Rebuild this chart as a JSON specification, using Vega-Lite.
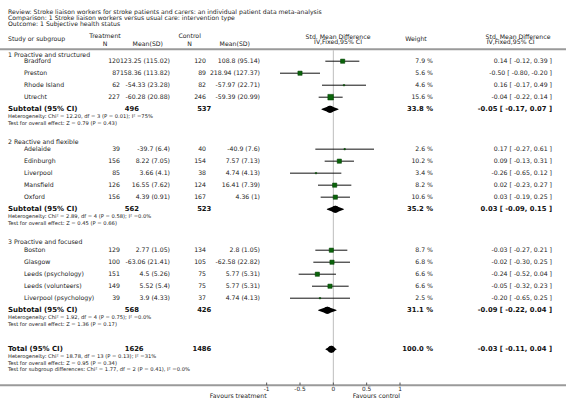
{
  "$schema": "https://vega.github.io/schema/vega-lite/v6.json",
  "width": 566,
  "height": 408,
  "padding": 0,
  "autosize": {"type": "none"},
  "background": "white",
  "config": {
    "view": {"stroke": null},
    "axis": {"disable": true},
    "legend": {"disable": true},
    "text": {"font": "DejaVu Sans", "fontSize": 6.2, "color": "#222", "baseline": "middle"}
  },
  "datasets": {
    "titles": [
      {"row": 0.94, "text": "Review:  Stroke liaison workers for stroke patients and carers: an individual patient data meta-analysis"},
      {"row": 1.44, "text": "Comparison:  1 Stroke liaison workers versus usual care: intervention type"},
      {"row": 1.9, "text": "Outcome:  1 Subjective health status"}
    ],
    "headers": [
      {"col": "label", "row": 3.15, "text": "Study or subgroup"},
      {"col": "treat", "row": 2.9, "text": "Treatment"},
      {"col": "tN", "row": 3.57, "text": "N"},
      {"col": "tMean", "row": 3.57, "text": "Mean(SD)"},
      {"col": "ctrl", "row": 2.9, "text": "Control"},
      {"col": "cN", "row": 3.57, "text": "N"},
      {"col": "cMean", "row": 3.57, "text": "Mean(SD)"},
      {"col": "plot", "row": 2.98, "text": "Std. Mean Difference"},
      {"col": "plot", "row": 3.44, "text": "IV,Fixed,95% CI"},
      {"col": "weight", "row": 3.11, "text": "Weight"},
      {"col": "ci", "row": 2.98, "text": "Std. Mean Difference"},
      {"col": "ci2", "row": 3.44, "text": "IV,Fixed,95% CI"}
    ],
    "groups": [
      {"row": 4.48, "label": "1 Proactive and structured"},
      {"row": 11.75, "label": "2 Reactive and flexible"},
      {"row": 20.08, "label": "3 Proactive and focused"}
    ],
    "studies": [
      {"study": "Bradford", "row": 5, "tN": "120", "tMean": "123.25 (115.02)", "cN": "120", "cMean": "108.8 (95.14)", "weight": 7.9, "wtext": "7.9 %", "est": 0.14, "lo": -0.12, "hi": 0.39, "ci": "0.14 [ -0.12, 0.39 ]"},
      {"study": "Preston", "row": 6, "tN": "87", "tMean": "158.36 (113.82)", "cN": "89", "cMean": "218.94 (127.37)", "weight": 5.6, "wtext": "5.6 %", "est": -0.5, "lo": -0.8, "hi": -0.2, "ci": "-0.50 [ -0.80, -0.20 ]"},
      {"study": "Rhode Island", "row": 7, "tN": "62", "tMean": "-54.33 (23.28)", "cN": "82", "cMean": "-57.97 (22.71)", "weight": 4.6, "wtext": "4.6 %", "est": 0.16, "lo": -0.17, "hi": 0.49, "ci": "0.16 [ -0.17, 0.49 ]"},
      {"study": "Utrecht", "row": 8, "tN": "227", "tMean": "-60.28 (20.88)", "cN": "246", "cMean": "-59.39 (20.99)", "weight": 15.6, "wtext": "15.6 %", "est": -0.04, "lo": -0.22, "hi": 0.14, "ci": "-0.04 [ -0.22, 0.14 ]"},
      {"study": "Adelaide", "row": 12.33, "tN": "39", "tMean": "-39.7 (6.4)", "cN": "40", "cMean": "-40.9 (7.6)", "weight": 2.6, "wtext": "2.6 %", "est": 0.17, "lo": -0.27, "hi": 0.61, "ci": "0.17 [ -0.27, 0.61 ]"},
      {"study": "Edinburgh", "row": 13.33, "tN": "156", "tMean": "8.22 (7.05)", "cN": "154", "cMean": "7.57 (7.13)", "weight": 10.2, "wtext": "10.2 %", "est": 0.09, "lo": -0.13, "hi": 0.31, "ci": "0.09 [ -0.13, 0.31 ]"},
      {"study": "Liverpool", "row": 14.33, "tN": "85", "tMean": "3.66 (4.1)", "cN": "38", "cMean": "4.74 (4.13)", "weight": 3.4, "wtext": "3.4 %", "est": -0.26, "lo": -0.65, "hi": 0.12, "ci": "-0.26 [ -0.65, 0.12 ]"},
      {"study": "Mansfield", "row": 15.33, "tN": "126", "tMean": "16.55 (7.62)", "cN": "124", "cMean": "16.41 (7.39)", "weight": 8.2, "wtext": "8.2 %", "est": 0.02, "lo": -0.23, "hi": 0.27, "ci": "0.02 [ -0.23, 0.27 ]"},
      {"study": "Oxford", "row": 16.33, "tN": "156", "tMean": "4.39 (0.91)", "cN": "167", "cMean": "4.36 (1)", "weight": 10.6, "wtext": "10.6 %", "est": 0.03, "lo": -0.19, "hi": 0.25, "ci": "0.03 [ -0.19, 0.25 ]"},
      {"study": "Boston", "row": 20.75, "tN": "129", "tMean": "2.77 (1.05)", "cN": "134", "cMean": "2.8 (1.05)", "weight": 8.7, "wtext": "8.7 %", "est": -0.03, "lo": -0.27, "hi": 0.21, "ci": "-0.03 [ -0.27, 0.21 ]"},
      {"study": "Glasgow", "row": 21.75, "tN": "100", "tMean": "-63.06 (21.41)", "cN": "105", "cMean": "-62.58 (22.82)", "weight": 6.8, "wtext": "6.8 %", "est": -0.02, "lo": -0.3, "hi": 0.25, "ci": "-0.02 [ -0.30, 0.25 ]"},
      {"study": "Leeds (psychology)", "row": 22.75, "tN": "151", "tMean": "4.5 (5.26)", "cN": "75", "cMean": "5.77 (5.31)", "weight": 6.6, "wtext": "6.6 %", "est": -0.24, "lo": -0.52, "hi": 0.04, "ci": "-0.24 [ -0.52, 0.04 ]"},
      {"study": "Leeds (volunteers)", "row": 23.75, "tN": "149", "tMean": "5.52 (5.4)", "cN": "75", "cMean": "5.77 (5.31)", "weight": 6.6, "wtext": "6.6 %", "est": -0.05, "lo": -0.32, "hi": 0.23, "ci": "-0.05 [ -0.32, 0.23 ]"},
      {"study": "Liverpool (psychology)", "row": 24.75, "tN": "39", "tMean": "3.9 (4.33)", "cN": "37", "cMean": "4.74 (4.13)", "weight": 2.5, "wtext": "2.5 %", "est": -0.2, "lo": -0.65, "hi": 0.25, "ci": "-0.20 [ -0.65, 0.25 ]"}
    ],
    "subs": [
      {"label": "Subtotal (95% CI)", "row": 9, "tN": "496", "cN": "537", "wtext": "33.8 %", "est": -0.05, "lo": -0.17, "hi": 0.07, "ci": "-0.05 [ -0.17, 0.07 ]", "het": "Heterogeneity: Chi² = 12.20, df = 3 (P = 0.01); I² =75%", "test": "Test for overall effect: Z = 0.79 (P = 0.43)", "sub": ""},
      {"label": "Subtotal (95% CI)", "row": 17.33, "tN": "562", "cN": "523", "wtext": "35.2 %", "est": 0.03, "lo": -0.09, "hi": 0.15, "ci": "0.03 [ -0.09, 0.15 ]", "het": "Heterogeneity: Chi² = 2.89, df = 4 (P = 0.58); I² =0.0%", "test": "Test for overall effect: Z = 0.45 (P = 0.66)", "sub": ""},
      {"label": "Subtotal (95% CI)", "row": 25.75, "tN": "568", "cN": "426", "wtext": "31.1 %", "est": -0.09, "lo": -0.22, "hi": 0.04, "ci": "-0.09 [ -0.22, 0.04 ]", "het": "Heterogeneity: Chi² = 1.92, df = 4 (P = 0.75); I² =0.0%", "test": "Test for overall effect: Z = 1.36 (P = 0.17)", "sub": ""},
      {"label": "Total (95% CI)", "row": 29, "tN": "1626", "cN": "1486", "wtext": "100.0 %", "est": -0.03, "lo": -0.11, "hi": 0.04, "ci": "-0.03 [ -0.11, 0.04 ]", "het": "Heterogeneity: Chi² = 18.78, df = 13 (P = 0.13); I² =31%", "test": "Test for overall effect: Z = 0.95 (P = 0.34)", "sub": "Test for subgroup differences: Chi² = 1.77, df = 2 (P = 0.41), I² =0.0%"}
    ],
    "rules": [
      {"what": "header", "row": 4.0},
      {"what": "axis", "row": 32}
    ],
    "ticks": [
      {"v": -1, "lab": "-1"},
      {"v": -0.5, "lab": "-0.5"},
      {"v": 0, "lab": "0"},
      {"v": 0.5, "lab": "0.5"},
      {"v": 1, "lab": "1"}
    ],
    "favours": [
      {"side": "treatment", "text": "Favours treatment"},
      {"side": "control", "text": "Favours control"}
    ]
  },
  "resolve": {"scale": {"size": "independent"}},
  "layer": [
    {
      "data": {"name": "rules"},
      "mark": {"type": "rule", "color": "#9a9a9a", "strokeWidth": 2},
      "encoding": {
        "x": {"datum": -5, "type": "quantitative", "scale": {"domain": [-5, 3.49], "nice": false, "zero": false}},
        "x2": {"datum": 3.49},
        "y": {"field": "row", "type": "quantitative", "scale": {"domain": [-0.1, 33.9], "nice": false, "zero": false, "reverse": true}}
      }
    },
    {
      "data": {"values": [{"line": "no effect"}]},
      "mark": {"type": "rule", "color": "#bdbdbd", "strokeWidth": 1},
      "encoding": {"x": {"datum": 0}, "y": {"datum": 4.08}, "y2": {"datum": 32}}
    },
    {
      "data": {"name": "ticks"},
      "mark": {"type": "rule", "color": "#555", "strokeWidth": 1},
      "encoding": {"x": {"field": "v", "type": "quantitative"}, "y": {"datum": 31.78}, "y2": {"datum": 32}}
    },
    {
      "data": {"name": "ticks"},
      "mark": {"type": "text", "align": "center", "fontSize": 5.8},
      "encoding": {"x": {"field": "v", "type": "quantitative"}, "y": {"datum": 32.35}, "text": {"field": "lab"}}
    },
    {
      "data": {"name": "favours"},
      "transform": [{"filter": "datum.side == 'treatment'"}],
      "mark": {"type": "text", "align": "right"},
      "encoding": {"x": {"datum": -1}, "y": {"datum": 32.9}, "text": {"field": "text"}}
    },
    {
      "data": {"name": "favours"},
      "transform": [{"filter": "datum.side == 'control'"}],
      "mark": {"type": "text", "align": "right"},
      "encoding": {"x": {"datum": 1}, "y": {"datum": 32.9}, "text": {"field": "text"}}
    },
    {
      "data": {"name": "titles"},
      "mark": {"type": "text", "align": "left", "fontSize": 6.15},
      "encoding": {"x": {"datum": -4.88}, "y": {"field": "row", "type": "quantitative"}, "text": {"field": "text"}}
    },
    {
      "data": {"name": "headers"},
      "transform": [{"filter": "datum.col == 'label'"}],
      "mark": {"type": "text", "align": "left"},
      "encoding": {"x": {"datum": -4.88}, "y": {"field": "row", "type": "quantitative"}, "text": {"field": "text"}}
    },
    {
      "data": {"name": "headers"},
      "transform": [{"filter": "datum.col == 'treat' || datum.col == 'tN'"}],
      "mark": {"type": "text", "align": "center"},
      "encoding": {"x": {"datum": -3.425}, "y": {"field": "row", "type": "quantitative"}, "text": {"field": "text"}}
    },
    {
      "data": {"name": "headers"},
      "transform": [{"filter": "datum.col == 'tMean'"}],
      "mark": {"type": "text", "align": "right"},
      "encoding": {"x": {"datum": -2.555}, "y": {"field": "row", "type": "quantitative"}, "text": {"field": "text"}}
    },
    {
      "data": {"name": "headers"},
      "transform": [{"filter": "datum.col == 'ctrl' || datum.col == 'cN'"}],
      "mark": {"type": "text", "align": "center"},
      "encoding": {"x": {"datum": -2.155}, "y": {"field": "row", "type": "quantitative"}, "text": {"field": "text"}}
    },
    {
      "data": {"name": "headers"},
      "transform": [{"filter": "datum.col == 'cMean'"}],
      "mark": {"type": "text", "align": "right"},
      "encoding": {"x": {"datum": -1.25}, "y": {"field": "row", "type": "quantitative"}, "text": {"field": "text"}}
    },
    {
      "data": {"name": "headers"},
      "transform": [{"filter": "datum.col == 'plot'"}],
      "mark": {"type": "text", "align": "center"},
      "encoding": {"x": {"datum": 0.07}, "y": {"field": "row", "type": "quantitative"}, "text": {"field": "text"}}
    },
    {
      "data": {"name": "headers"},
      "transform": [{"filter": "datum.col == 'weight'"}],
      "mark": {"type": "text", "align": "center"},
      "encoding": {"x": {"datum": 1.24}, "y": {"field": "row", "type": "quantitative"}, "text": {"field": "text"}}
    },
    {
      "data": {"name": "headers"},
      "transform": [{"filter": "datum.col == 'ci'"}],
      "mark": {"type": "text", "align": "center"},
      "encoding": {"x": {"datum": 2.77}, "y": {"field": "row", "type": "quantitative"}, "text": {"field": "text"}}
    },
    {
      "data": {"name": "headers"},
      "transform": [{"filter": "datum.col == 'ci2'"}],
      "mark": {"type": "text", "align": "center"},
      "encoding": {"x": {"datum": 2.66}, "y": {"field": "row", "type": "quantitative"}, "text": {"field": "text"}}
    },
    {
      "data": {"name": "groups"},
      "mark": {"type": "text", "align": "left"},
      "encoding": {"x": {"datum": -4.88}, "y": {"field": "row", "type": "quantitative"}, "text": {"field": "label"}}
    },
    {
      "data": {"name": "studies"},
      "mark": {"type": "text", "align": "left"},
      "encoding": {"x": {"datum": -4.64}, "y": {"field": "row", "type": "quantitative"}, "text": {"field": "study"}}
    },
    {
      "data": {"name": "studies"},
      "mark": {"type": "text", "align": "right"},
      "encoding": {"x": {"datum": -3.2}, "y": {"field": "row", "type": "quantitative"}, "text": {"field": "tN"}}
    },
    {
      "data": {"name": "studies"},
      "mark": {"type": "text", "align": "right"},
      "encoding": {"x": {"datum": -2.45}, "y": {"field": "row", "type": "quantitative"}, "text": {"field": "tMean"}}
    },
    {
      "data": {"name": "studies"},
      "mark": {"type": "text", "align": "right"},
      "encoding": {"x": {"datum": -1.91}, "y": {"field": "row", "type": "quantitative"}, "text": {"field": "cN"}}
    },
    {
      "data": {"name": "studies"},
      "mark": {"type": "text", "align": "right"},
      "encoding": {"x": {"datum": -1.1}, "y": {"field": "row", "type": "quantitative"}, "text": {"field": "cMean"}}
    },
    {
      "data": {"name": "studies"},
      "mark": {"type": "text", "align": "right"},
      "encoding": {"x": {"datum": 1.495}, "y": {"field": "row", "type": "quantitative"}, "text": {"field": "wtext"}}
    },
    {
      "data": {"name": "studies"},
      "mark": {"type": "text", "align": "right"},
      "encoding": {"x": {"datum": 3.28}, "y": {"field": "row", "type": "quantitative"}, "text": {"field": "ci"}}
    },
    {
      "data": {"name": "studies"},
      "mark": {"type": "rule", "color": "#111", "strokeWidth": 1},
      "encoding": {"x": {"field": "lo", "type": "quantitative"}, "x2": {"field": "hi"}, "y": {"field": "row", "type": "quantitative"}}
    },
    {
      "data": {"name": "studies"},
      "mark": {"type": "point", "shape": "square", "filled": true, "color": "#0a640a", "opacity": 1, "stroke": "#033d03", "strokeWidth": 0.5},
      "encoding": {
        "x": {"field": "est", "type": "quantitative"},
        "y": {"field": "row", "type": "quantitative"},
        "size": {"field": "weight", "type": "quantitative", "scale": {"type": "threshold", "domain": [5, 12], "range": [2, 18, 32]}, "legend": null}
      }
    },
    {
      "data": {"name": "subs"},
      "transform": [{"fold": ["lo", "est"], "as": ["k", "xv"]}],
      "mark": {"type": "trail", "color": "#000"},
      "encoding": {
        "x": {"field": "xv", "type": "quantitative"},
        "y": {"field": "row", "type": "quantitative"},
        "detail": {"field": "row", "type": "nominal"},
        "size": {"field": "k", "type": "nominal", "scale": {"type": "point", "domain": ["lo", "est"], "range": [0, 7], "padding": 0}, "legend": null}
      }
    },
    {
      "data": {"name": "subs"},
      "transform": [{"fold": ["est", "hi"], "as": ["k", "xv"]}],
      "mark": {"type": "trail", "color": "#000"},
      "encoding": {
        "x": {"field": "xv", "type": "quantitative"},
        "y": {"field": "row", "type": "quantitative"},
        "detail": {"field": "row", "type": "nominal"},
        "size": {"field": "k", "type": "nominal", "scale": {"type": "point", "domain": ["hi", "est"], "range": [0, 7], "padding": 0}, "legend": null}
      }
    },
    {
      "data": {"name": "subs"},
      "mark": {"type": "text", "align": "left", "fontSize": 7, "fontWeight": "bold", "color": "#111"},
      "encoding": {"x": {"datum": -4.88}, "y": {"field": "row", "type": "quantitative"}, "text": {"field": "label"}}
    },
    {
      "data": {"name": "subs"},
      "mark": {"type": "text", "align": "left", "fontSize": 6.8, "fontWeight": "bold", "color": "#111"},
      "encoding": {"x": {"datum": -3.13}, "y": {"field": "row", "type": "quantitative"}, "text": {"field": "tN"}}
    },
    {
      "data": {"name": "subs"},
      "mark": {"type": "text", "align": "right", "fontSize": 6.8, "fontWeight": "bold", "color": "#111"},
      "encoding": {"x": {"datum": -1.83}, "y": {"field": "row", "type": "quantitative"}, "text": {"field": "cN"}}
    },
    {
      "data": {"name": "subs"},
      "mark": {"type": "text", "align": "right", "fontSize": 6.8, "fontWeight": "bold", "color": "#111"},
      "encoding": {"x": {"datum": 1.495}, "y": {"field": "row", "type": "quantitative"}, "text": {"field": "wtext"}}
    },
    {
      "data": {"name": "subs"},
      "mark": {"type": "text", "align": "right", "fontSize": 6.8, "fontWeight": "bold", "color": "#111"},
      "encoding": {"x": {"datum": 3.28}, "y": {"field": "row", "type": "quantitative"}, "text": {"field": "ci"}}
    },
    {
      "data": {"name": "subs"},
      "mark": {"type": "text", "align": "left", "fontSize": 5.2, "dy": 7},
      "encoding": {"x": {"datum": -4.88}, "y": {"field": "row", "type": "quantitative"}, "text": {"field": "het"}}
    },
    {
      "data": {"name": "subs"},
      "mark": {"type": "text", "align": "left", "fontSize": 5.2, "dy": 13.5},
      "encoding": {"x": {"datum": -4.88}, "y": {"field": "row", "type": "quantitative"}, "text": {"field": "test"}}
    },
    {
      "data": {"name": "subs"},
      "mark": {"type": "text", "align": "left", "fontSize": 5.2, "dy": 19.5},
      "encoding": {"x": {"datum": -4.88}, "y": {"field": "row", "type": "quantitative"}, "text": {"field": "sub"}}
    }
  ]
}
